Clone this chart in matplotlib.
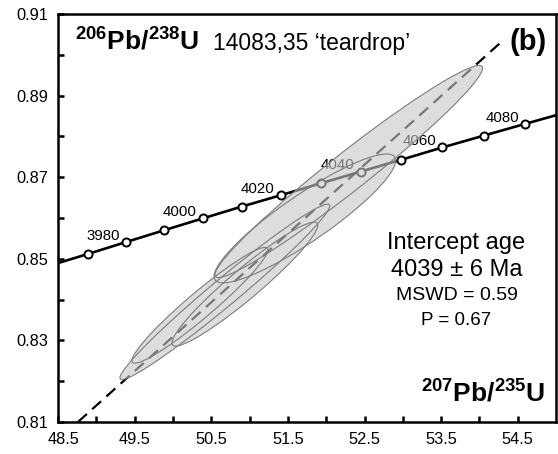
import numpy as np
import matplotlib.pyplot as plt
from matplotlib.patches import PathPatch
from matplotlib.path import Path
from matplotlib.transforms import Affine2D, ScaledTranslation

plt.rcParams['font.family'] = 'Liberation Sans'
plt.rcParams['mathtext.fontset'] = 'custom'
plt.rcParams['mathtext.rm'] = 'Liberation Sans'
plt.rcParams['mathtext.bf'] = 'Liberation Sans:bold'

# === CONCORDIA NODES (Ma) ===
AGES = [3960, 3970, 3980, 3990, 4000, 4010, 4020, 4030, 4040, 4050, 4060, 4070, 4080, 4090]
PB207_U235 = [48.403, 48.892, 49.386, 49.884, 50.388, 50.896, 51.410, 51.929,
              52.453, 52.982, 53.516, 54.056, 54.600, 55.151]
PB206_U238 = [0.8484, 0.8512, 0.8541, 0.8570, 0.8599, 0.8628, 0.8656, 0.8685,
              0.8714, 0.8743, 0.8773, 0.8802, 0.8831, 0.8860]
LABELLED = [3980, 4000, 4020, 4040, 4060, 4080]

# === ANALYSES (2 sigma half widths, error correlation) ===
ELL_X = [52.294, 51.722, 50.677, 50.938, 50.351]
ELL_Y = [0.8714, 0.8599, 0.8419, 0.8438, 0.8386]
ELL_SX = [1.747, 1.186, 1.369, 0.952, 0.887]
ELL_SY = [0.0260, 0.0158, 0.0215, 0.0152, 0.0142]
ELL_RHO = [0.974, 0.90, 0.98, 0.95, 0.957]

# === DISCORDIA ===
DISC_X = [48.76, 54.27]
DISC_Y = [0.8100, 0.9029]

fig = plt.figure(figsize=(5.58, 4.54), dpi=100)
ax = fig.add_axes([0.104, 0.0705, 0.8925, 0.8985])
ax.set_xlim(48.5, 55.0)
ax.set_ylim(0.81, 0.91)

# concordia, nodes and labels
ax.plot(PB207_U235, PB206_U238, '-', color='black', lw=1.9, zorder=2)
shown = [i for i, a in enumerate(AGES) if 3970 <= a <= 4080]
ax.plot([PB207_U235[i] for i in shown], [PB206_U238[i] for i in shown], 'o',
        ms=5.8, mfc='white', mec='black', mew=1.4, zorder=3)
for i, a in enumerate(AGES):
    if a in LABELLED:
        ax.annotate(str(a), (PB207_U235[i], PB206_U238[i]), xytext=(-4.5, 1.5),
                    textcoords='offset points', ha='right', va='baseline',
                    fontsize=10.8, zorder=3)

# discordia
d, = ax.plot(DISC_X, DISC_Y, color='black', lw=1.6, zorder=2)
d.set_dashes([5.4, 3.2])

# error ellipses: one shared translucent fill (no darkening on overlaps), then outlines
paths = []
for x, y, sx, sy, r in zip(ELL_X, ELL_Y, ELL_SX, ELL_SY, ELL_RHO):
    m = Affine2D(np.array([[sx, 0, x], [r * sy, sy * np.sqrt(1 - r * r), y], [0, 0, 1]]))
    paths.append(Path.unit_circle().transformed(m))
union = Path.make_compound_path(*paths)
ax.add_patch(PathPatch(union, facecolor=(0.78, 0.78, 0.78, 0.6), edgecolor='none', zorder=4))
for p in paths:
    ax.add_patch(PathPatch(p, facecolor='none', edgecolor='#7c7c7c', lw=0.8, zorder=5))

# labels
ax.text(48.72, 0.9012, r'$\mathbf{^{206}Pb/^{238}U}$', fontsize=19, zorder=8)
ax.text(50.52, 0.9012, '14083,35 \u2018teardrop\u2019', fontsize=16.5, zorder=8)
ax.text(54.88, 0.9012, '(b)', fontsize=21, fontweight='bold', ha='right', zorder=8)
ax.text(54.85, 0.8149, r'$\mathbf{^{207}Pb/^{235}U}$', fontsize=19, ha='right', zorder=8)
ax.text(53.70, 0.8539, 'Intercept age', fontsize=17, ha='center', va='center', zorder=8)
ax.text(53.70, 0.8473, '4039 \u00b1 6 Ma', fontsize=17, ha='center', va='center', zorder=8)
ax.text(53.70, 0.8409, 'MSWD = 0.59', fontsize=14, ha='center', va='center', zorder=8)
ax.text(53.70, 0.8350, 'P = 0.67', fontsize=13.5, ha='center', va='center', zorder=8)

# axes styling
ax.set_xticks(np.arange(48.5, 54.6, 1.0))
ax.set_xticks(np.arange(49.0, 55.0, 1.0), minor=True)
ax.set_yticks(np.arange(0.81, 0.911, 0.02))
ax.set_yticks(np.arange(0.82, 0.91, 0.02), minor=True)
ax.set_yticklabels([f'{v:.2f}' for v in np.arange(0.81, 0.911, 0.02)])
ax.tick_params(which='both', direction='in', length=4, width=1.8, labelsize=11.8, pad=7,
               top=False, right=False)
for s in ax.spines.values():
    s.set_linewidth(1.8)

# first x label sits a little right of the corner
first = ax.get_xticklabels()[0]
first.set_transform(first.get_transform() + ScaledTranslation(6 / 100, 0, fig.dpi_scale_trans))

fig.savefig('out.png', dpi=100)
